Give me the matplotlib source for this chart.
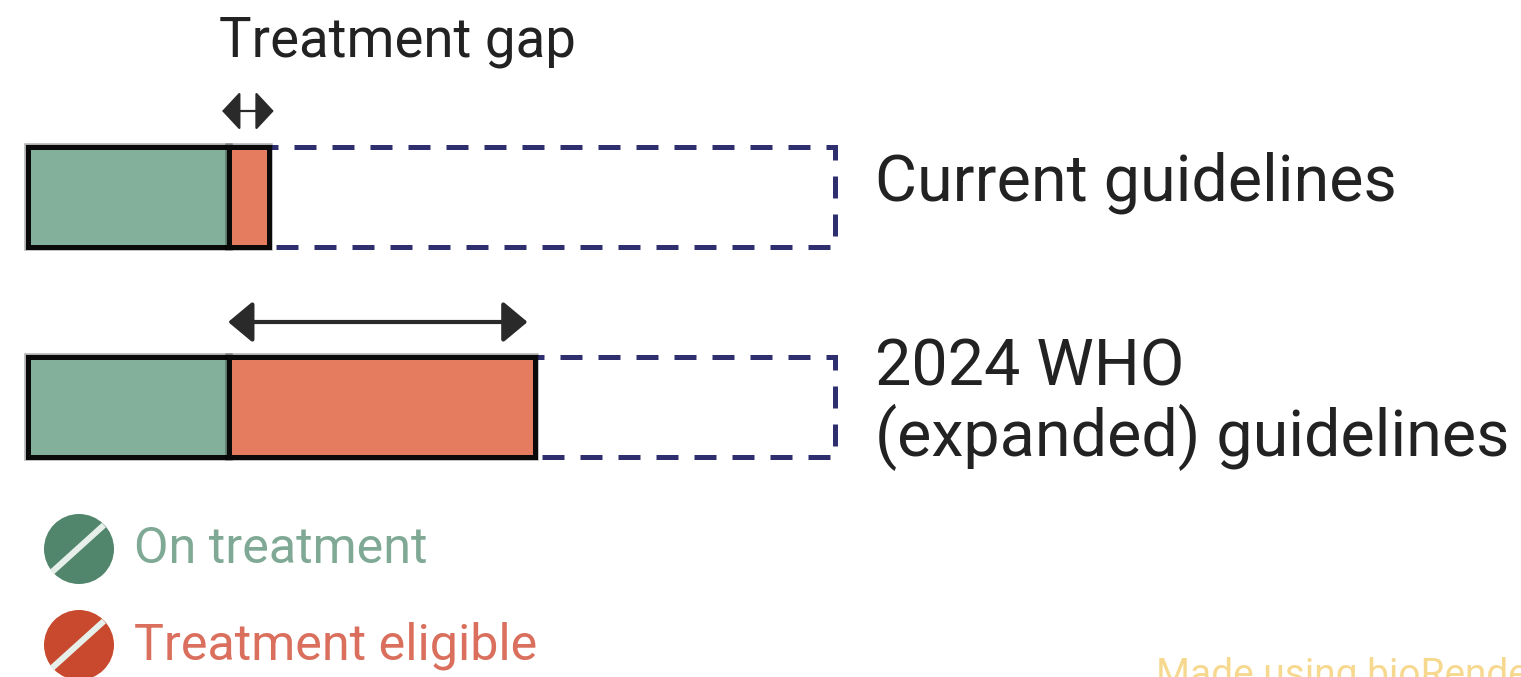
import matplotlib
matplotlib.use("Agg")
import matplotlib.pyplot as plt
from matplotlib.patches import Circle
import matplotlib.patheffects as pe

plt.rcParams['font.family'] = ['Roboto', 'DejaVu Sans']

# Data (share of the population, %)
categories = ["Current guidelines", "2024 WHO\n(expanded) guidelines"]
on_treatment = [24.9, 24.9]
treatment_gap = [5.0, 37.9]
total_population = [100, 100]
legend_labels = ["On treatment", "Treatment eligible"]
gap_title = "Treatment gap"
watermark = "Made using bioRender"

GREEN = "#83b09a"
ORANGE = "#e57b5f"
NAVY = "#2f2f70"
W, H = 1521, 677

fig = plt.figure(figsize=(W / 100, H / 100), dpi=100, facecolor="white")

# Pixel-space overlay for annotations
ov = fig.add_axes([0, 0, 1, 1], zorder=3)
ov.set_xlim(0, W); ov.set_ylim(H, 0); ov.axis("off"); ov.patch.set_alpha(0)

# Bar axes: 100 % spans x = 28..835 px
SCALE = 8.07
ax = fig.add_axes([0, 0, 1, 1], zorder=2)
ax.set_xlim(-28 / SCALE, (W - 28) / SCALE)
ax.set_ylim(H, 0)
ax.axis("off")
ax.patch.set_alpha(0)
y_pos = [197, 407]
bar_h = 100

halo = [pe.Stroke(linewidth=5.4, foreground="#00000050"), pe.Normal()]
for y, tr, gp, tot in zip(y_pos, on_treatment, treatment_gap, total_population):
    ax.barh(y, tot, height=bar_h, left=0, facecolor="none", edgecolor=NAVY,
            linewidth=3.6, linestyle=(0, (4.4, 3.2)), zorder=1)
    ax.barh(y, tr, height=bar_h, left=0, color=GREEN, edgecolor="#0a0a0a",
            linewidth=3.6, zorder=2, path_effects=halo)
    ax.barh(y, gp, height=bar_h, left=tr, color=ORANGE, edgecolor="#0a0a0a",
            linewidth=3.6, zorder=3, path_effects=halo)

# Arrows above the gaps
ax.annotate("", xy=(on_treatment[0] - 0.85, 111),
            xytext=(on_treatment[0] + treatment_gap[0] + 0.55, 111),
            arrowprops=dict(arrowstyle="<|-|>,head_length=0.27,head_width=0.29",
                            color="#2a2a2a", lw=1.6, mutation_scale=42, shrinkA=0, shrinkB=0))
ax.annotate("", xy=(on_treatment[1] - 0.1, 322),
            xytext=(on_treatment[1] + treatment_gap[1] - 0.9, 322),
            arrowprops=dict(arrowstyle="<|-|>,head_length=0.36,head_width=0.3",
                            color="#2a2a2a", lw=3.0, mutation_scale=42, shrinkA=0, shrinkB=0))

TXT = "#222222"
ov.text(219, 56, gap_title, fontsize=39.3, color=TXT, va="baseline", ha="left")
ov.text(875, 201, categories[0], fontsize=46.5, color=TXT, va="baseline", ha="left")
first, second = categories[1].split("\n")
ov.text(875, 385, first, fontsize=46.5, color=TXT, va="baseline", ha="left")
ov.text(875, 456, second, fontsize=46.5, color=TXT, va="baseline", ha="left")

# Legend
pills = [(79, 549, "#52866c", "#7fa994"), (79, 645, "#c9492e", "#d96f5c")]
for (cx, cy, c, tc), lab in zip(pills, legend_labels):
    ov.add_patch(Circle((cx, cy), 35, facecolor=c, edgecolor="none"))
    ov.plot([cx - 27, cx + 25], [cy + 23, cy - 24], color="#e6efe9", lw=4.4,
            solid_capstyle="butt")
    ov.text(134, cy + 14, lab, fontsize=36.2, color=tc, va="baseline", ha="left")

ov.text(1156, 686, watermark, fontsize=28, color="#f6d88f", va="baseline", ha="left",
        clip_on=True)

fig.savefig("out.png", dpi=100, facecolor="white")
